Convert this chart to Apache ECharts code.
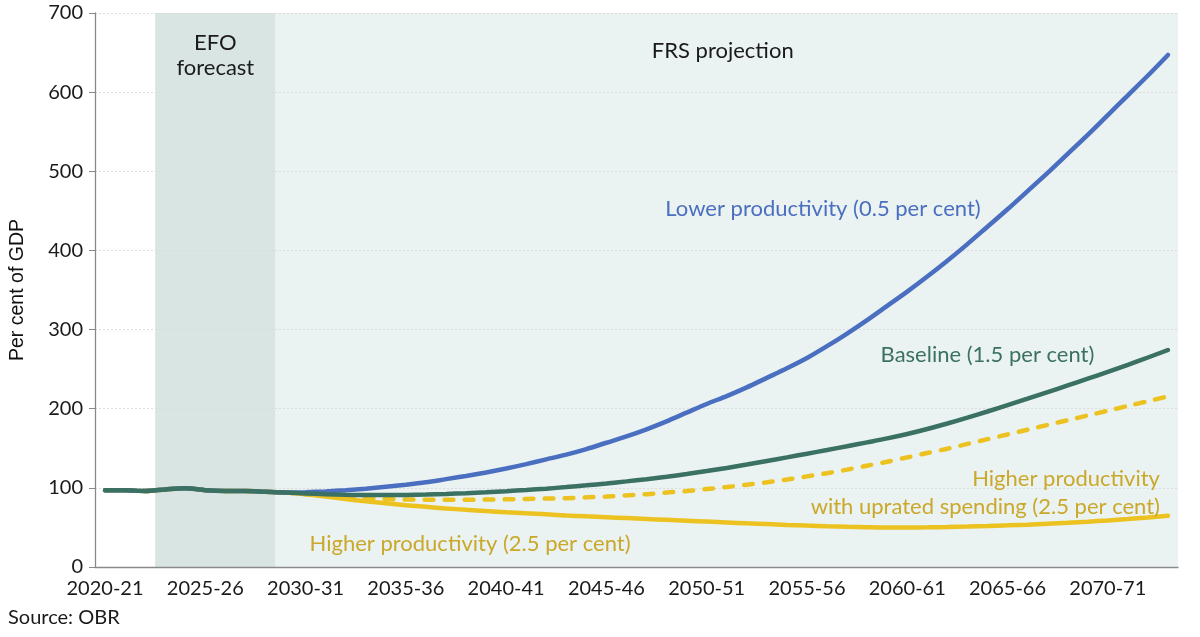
<!DOCTYPE html>
<html>
<head>
<meta charset="utf-8">
<script src="https://cdn.jsdelivr.net/npm/echarts@6/dist/echarts.min.js"></script>
<style>
html,body{margin:0;padding:0;background:#fff;}
#chart{width:1200px;height:637px;}
</style>
</head>
<body>
<div id="chart"></div>
<script>
const categories = ['2020-21','2021-22','2022-23','2023-24','2024-25','2025-26','2026-27','2027-28','2028-29','2029-30',
'2030-31','2031-32','2032-33','2033-34','2034-35','2035-36','2036-37','2037-38','2038-39','2039-40',
'2040-41','2041-42','2042-43','2043-44','2044-45','2045-46','2046-47','2047-48','2048-49','2049-50',
'2050-51','2051-52','2052-53','2053-54','2054-55','2055-56','2056-57','2057-58','2058-59','2059-60',
'2060-61','2061-62','2062-63','2063-64','2064-65','2065-66','2066-67','2067-68','2068-69','2069-70',
'2070-71','2071-72','2072-73','2073-74'];

const lowerProductivity = [97,97,96,98,99.5,97,96,96,95,94,
94.5,95.5,97,99,101.5,104,107,111,115,119.5,
124.5,130,136,142,149,157,165,174,184,195,
206,216,227,239,251,264,279,295,312,330,
348,367,387,408,430,452,475,498,522,546,
571,596,621,647];

const baseline = [97,97,96,98,99.5,97,96,96,95,94,
93,92,91.3,91,90.9,91,91.5,92.3,93.3,94.5,
95.8,97.3,99,101,103.2,105.6,108.2,111,114,117.5,
121.2,125.2,129.5,134,138.5,143.1,147.8,152.6,157.5,162.5,
168.1,174.4,181.3,188.7,196.5,204.5,212.7,221,229.4,237.9,
246.6,255.5,264.7,274.2];

const higherUprated = [97,97,96,98,99.5,97,96,96,95,94,
92,90,88.3,87,86,85.3,85,85,85,85.2,
85.5,86,86.5,87,88,89,90.5,92,94,96,
98.5,101,104,107,110.5,114.5,118.5,123,128,133,
138.5,144,149.5,155.5,161.5,167.5,173.5,179.5,185.5,191.5,
197.5,203.5,209.5,215.5];

const higherProductivity = [97,97,96,98,99.5,97,96,96,95,94,
92,89,86,83,80.5,78,76,74,72.3,70.7,
69.2,67.8,66.5,65.2,64,62.9,61.8,60.7,59.6,58.5,
57.4,56.3,55.2,54.2,53.2,52.3,51.5,50.8,50.3,50,
50,50.2,50.6,51.1,51.8,52.6,53.5,54.6,55.8,57.2,
58.8,60.6,62.6,64.8];

// shaded periods, as [start, end] positions in category-band units
const periods = [
  {name: 'EFO', start: 3, end: 9, color: '#d9e5e3'},
  {name: 'FRS', start: 9, end: 54, color: '#ebf2f2'}
];

const yTicks = {min: 0, max: 700, interval: 100};

const FONT = 'Lato';
const BLUE = '#4a6fc0', GREEN = '#3b7163', YELLOW = '#ecc220', YTEXT = '#c9a82a';

const chart = echarts.init(document.getElementById('chart'), null, {renderer: 'canvas'});

function lineSeries(name, data, color, dashed) {
  return {
    name, type: 'line', data, xAxisIndex: 0, yAxisIndex: 0,
    showSymbol: false, smooth: 0.3, z: 3,
    lineStyle: {color, width: 4.5, type: dashed ? [9, 11] : 'solid', cap: 'round'},
    emphasis: {disabled: true}
  };
}

chart.setOption({
  animation: false,
  backgroundColor: '#fff',
  grid: {left: 95, right: 22, top: 13, bottom: 70, containLabel: false},
  xAxis: [{
    type: 'category', data: categories, boundaryGap: true,
    axisLine: {lineStyle: {color: '#8a8a8a', width: 1.3}},
    axisTick: {interval: 4, length: 6, lineStyle: {color: '#8a8a8a'}},
    axisLabel: {interval: 4, fontFamily: FONT, fontSize: 20, color: '#1a1a1a', margin: 12},
    splitLine: {show: false}
  }, {
    type: 'value', min: 0, max: categories.length, show: false
  }],
  yAxis: {
    type: 'value', min: yTicks.min, max: yTicks.max, interval: yTicks.interval,
    name: 'Per cent of GDP', nameLocation: 'middle', nameGap: 67, nameRotate: 90,
    nameTextStyle: {fontFamily: 'Liberation Sans', fontSize: 19.5, color: '#111'},
    axisLine: {show: true, lineStyle: {color: '#8a8a8a', width: 1.3}},
    axisTick: {show: true, length: 6, lineStyle: {color: '#8a8a8a'}},
    axisLabel: {fontFamily: FONT, fontSize: 20, color: '#1a1a1a', margin: 12},
    splitLine: {show: true, lineStyle: {color: '#dcdcdc', type: [2, 2], width: 1}}
  },
  series: [
    {
      type: 'custom', xAxisIndex: 1, yAxisIndex: 0, z: -1, silent: true,
      data: periods.map(p => [p.start, p.end]),
      renderItem: function (params, api) {
        const p = periods[params.dataIndex];
        const a = api.coord([api.value(0), yTicks.max]);
        const b = api.coord([api.value(1), yTicks.min]);
        return {type: 'rect', shape: {x: a[0], y: a[1], width: b[0] - a[0], height: b[1] - a[1]},
          style: {fill: p.color}};
      }
    },
    lineSeries('Higher productivity (2.5 per cent)', higherProductivity, YELLOW, false),
    lineSeries('Higher productivity with uprated spending (2.5 per cent)', higherUprated, YELLOW, true),
    lineSeries('Lower productivity (0.5 per cent)', lowerProductivity, BLUE, false),
    lineSeries('Baseline (1.5 per cent)', baseline, GREEN, false)
  ]
});

function px(idx, val) { return chart.convertToPixel({xAxisIndex: 1, yAxisIndex: 0}, [idx, val]); }

const notes = [
  {text: 'EFO\nforecast', at: [6, 647], align: 'center', color: '#1a1a1a', lh: 25},
  {text: 'FRS projection', at: [31.3, 652], align: 'center', color: '#1a1a1a', lh: 28},
  {text: 'Lower productivity (0.5 per cent)', at: [36.3, 453], align: 'center', color: BLUE, lh: 28},
  {text: 'Baseline (1.5 per cent)', at: [44.5, 268], align: 'center', color: GREEN, lh: 28},
  {text: 'Higher productivity\nwith uprated spending (2.5 per cent)', at: [53.1, 93], align: 'right', color: YTEXT, lh: 28},
  {text: 'Higher productivity (2.5 per cent)', at: [18.7, 29], align: 'center', color: YTEXT, lh: 28}
];

const graphics = notes.map(n => {
  const p = px(n.at[0], n.at[1]);
  return {type: 'text', x: p[0], y: p[1], z: 10,
    style: {text: n.text, fill: n.color, font: '22px ' + FONT, align: n.align, verticalAlign: 'middle', lineHeight: n.lh}};
});
graphics.push({type: 'text', left: 8, top: 608,
  style: {text: 'Source: OBR', fill: '#1a1a1a', font: '20px ' + FONT}});
chart.setOption({graphic: graphics});
</script>
</body>
</html>
